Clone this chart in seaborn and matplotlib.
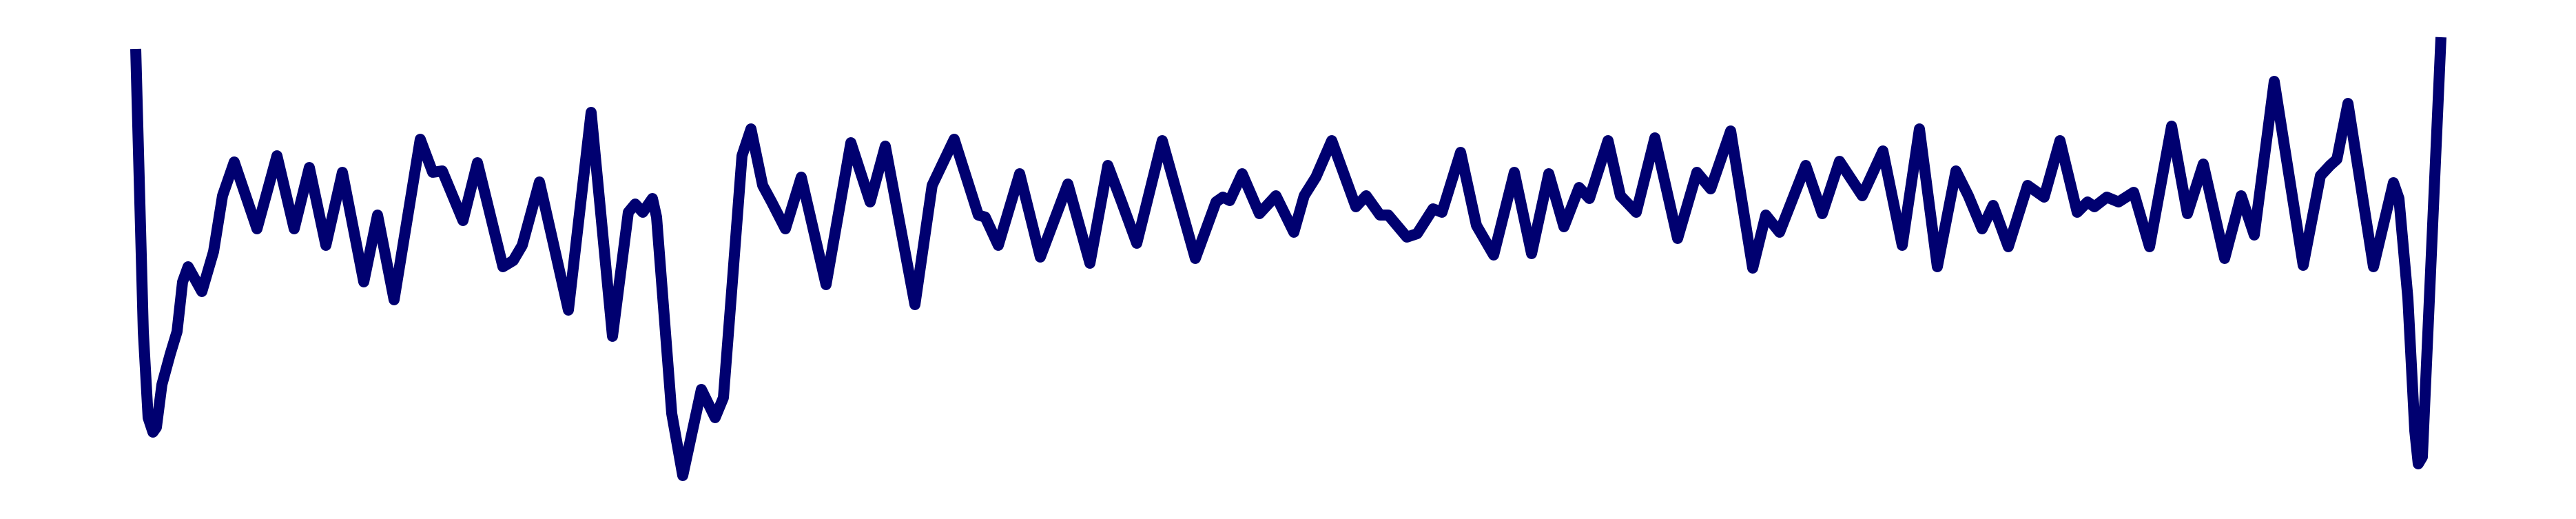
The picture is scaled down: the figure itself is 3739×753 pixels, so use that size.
import numpy as np
import pandas as pd
import matplotlib
matplotlib.use("Agg")
import matplotlib.pyplot as plt
import seaborn as sns

# sample position and signal amplitude
t = [0, 11, 15, 18, 25, 30, 38, 50, 60, 68, 76, 96, 113, 126, 143, 176, 205, 230,
     252, 276, 300, 331, 351, 375, 413, 431, 445, 475, 496, 533, 548, 561, 586, 628,
     661, 692, 715, 725, 736, 750, 756, 778, 794, 821, 841, 853, 866, 880, 893, 910,
     923, 943, 966, 1002, 1038, 1066, 1088, 1131, 1156, 1188, 1223, 1233, 1252, 1283,
     1313, 1353, 1385, 1411, 1431, 1453, 1490, 1538, 1568, 1578, 1588, 1606, 1631,
     1655, 1681, 1696, 1713, 1736, 1771, 1786, 1806, 1818, 1845, 1860, 1883, 1896,
     1923, 1946, 1971, 2001, 2026, 2051, 2073, 2095, 2110, 2137, 2155, 2178, 2205,
     2238, 2266, 2286, 2315, 2347, 2366, 2386, 2424, 2448, 2473, 2506, 2536, 2564,
     2589, 2615, 2642, 2660, 2680, 2696, 2718, 2746, 2770, 2793, 2818, 2833, 2843,
     2861, 2878, 2900, 2923, 2955, 2978, 3001, 3032, 3056, 3075, 3104, 3146, 3171,
     3185, 3195, 3211, 3248, 3277, 3285, 3298, 3308, 3313, 3319, 3346]
signal = [309, -101, -173, -226, -247, -240, -178, -134, -101, -29, -7, -43, 15, 96,
          145, 48, 154, 48, 137, 24, 130, -29, 68, -55, 178, 130, 132, 60, 144, -7, 2,
          24, 116, -70, 217, -108, 72, 84, 72, 92, 65, -220, -310, -185, -226, -197,
          -29, 154, 193, 111, 87, 48, 123, -33, 173, 87, 168, -62, 111, 178, 68, 65,
          24, 128, 7, 113, -2, 140, 87, 27, 176, 5, 87, 94, 89, 128, 70, 96, 43, 96,
          123, 176, 80, 96, 68, 68, 36, 41, 77, 72, 159, 53, 10, 130, 12, 128, 51, 108,
          92, 176, 96, 72, 180, 34, 130, 106, 190, -9, 68, 43, 140, 70, 146, 96, 161,
          24, 193, -7, 132, 96, 48, 82, 22, 111, 94, 176, 72, 87, 80, 94, 87, 101, 22,
          197, 70, 142, 5, 96, 39, 262, -5, 125, 140, 149, 230, -7, 115, 92, -53, -245,
          -293, -283, 326]

df = pd.DataFrame({"t": t, "signal": signal})

sns.set_style("white")
fig = plt.figure(figsize=(37.39, 7.53), dpi=100)
ax = fig.add_axes([0, 0, 1, 1])

sns.lineplot(data=df, x="t", y="signal", ax=ax, color="#000070", linewidth=11.5,
             sort=False, estimator=None)
for line in ax.get_lines():
    line.set_solid_joinstyle("round")
    line.set_solid_capstyle("butt")

ax.set_xlim(-197, 3542)
ax.set_ylim(-373, 380)
ax.set_axis_off()

fig.savefig("out.png", dpi=100, facecolor="white")
